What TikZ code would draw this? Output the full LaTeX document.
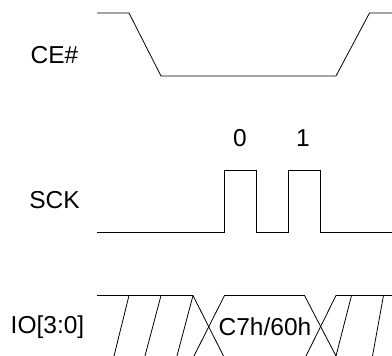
\documentclass[tikz,border=0pt]{standalone}
\usepackage{fontspec}
\setmainfont{Liberation Sans}
\tikzset{wave/.style={line width=0.8bp,black,line join=miter}}
\newcommand{\siglabel}[4]{\node[inner sep=0pt,font=\fontsize{24.5bp}{25bp}\selectfont] (#1) at (#3,#4) {#2};}
\newcommand{\hatchline}[2]{\draw[wave] (#1,295.5) -- (#2,356);}

\begin{document}
\begin{tikzpicture}[x=1bp,y=-1bp]
    \useasboundingbox (0,0) rectangle (392,356);
    \siglabel{ce}{CE\#}{54.5}{55}
    \siglabel{sck}{SCK}{54.5}{200}
    \siglabel{io}{IO[3:0]}{47.5}{327}
    \siglabel{clk0}{0}{240}{138}
    \siglabel{clk1}{1}{303}{138}
    \siglabel{data}{C7h/60h}{265}{327}
    % CE#
    \draw[wave] (97,13) -- (129,13) -- (161,76) -- (336,76) -- (369.5,13) -- (392,13);
    % SCK
    \draw[wave] (97,232.5) -- (224.5,232.5) -- (224.5,170) -- (256.5,170) -- (256.5,232.5)
        -- (288.5,232.5) -- (288.5,170) -- (320,170) -- (320,232.5) -- (392,232.5);
    % IO[3:0]
    \draw[wave] (97,295.5) -- (193,295.5) -- (223.5,356);
    \draw[wave] (194,356) -- (224.5,295.5) -- (304.5,295.5) -- (336,356);
    \draw[wave] (306,356) -- (336,295.5) -- (392,295.5);
    \foreach \from/\to in {129/114,161/145,193/177,351.5/336}
        {\hatchline{\from}{\to}}
    \hatchline{383.5}{372.5}
\end{tikzpicture}
\end{document}
